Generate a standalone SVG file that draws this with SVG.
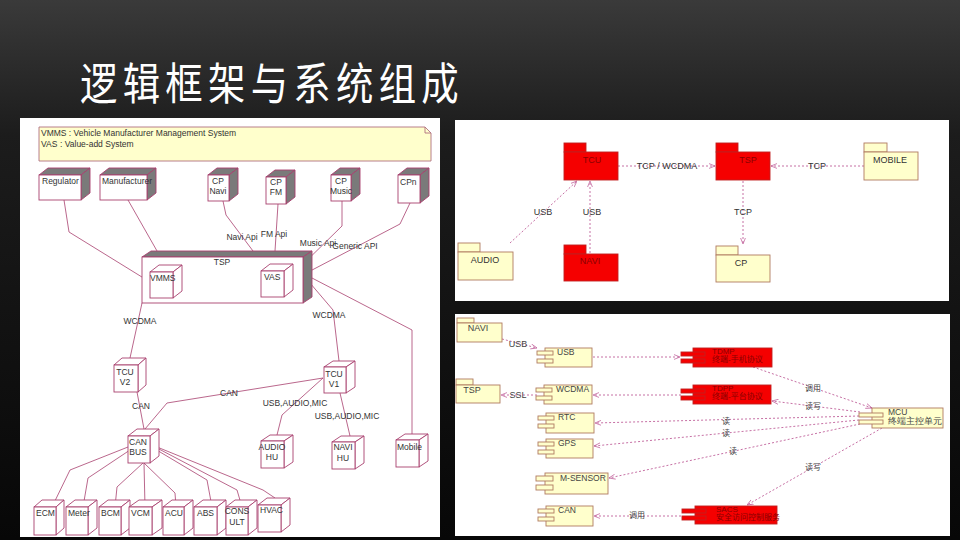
<svg xmlns="http://www.w3.org/2000/svg" width="960" height="540" viewBox="0 0 960 540">
  <defs>
    <linearGradient id="bg" x1="0" y1="0" x2="0" y2="1">
      <stop offset="0" stop-color="#3a3a3a"/>
      <stop offset="0.25" stop-color="#1c1c1c"/>
      <stop offset="1" stop-color="#070707"/>
    </linearGradient>
    <marker id="arr" viewBox="0 0 10 10" refX="10" refY="5" markerWidth="7" markerHeight="7" orient="auto-start-reverse">
      <path d="M0,1 L10,5 L0,9" fill="none" stroke="#c0609a" stroke-width="1.2"/>
    </marker>
    <style>
      .fr { fill: #ffffff; stroke: #a8406e; stroke-width: 0.9; }
      .sd { fill: #7a7a7a; stroke: #a8406e; stroke-width: 0.9; }
      .wsd { fill: #ffffff; stroke: #a8406e; stroke-width: 0.9; }
      .nl { font-family: "Liberation Sans", Arial, sans-serif; font-size: 8.5px; fill: #333; }
      .nlc { font-family: "Liberation Sans", Arial, sans-serif; font-size: 8.5px; fill: #333; text-anchor: middle; }
      .ln { fill: none; stroke: #a8406e; stroke-width: 0.8; }
      .dl { fill: none; stroke: #c0609a; stroke-width: 0.9; stroke-dasharray: 2 2; }
      .pk { fill: #ffffcc; stroke: #b07a60; stroke-width: 0.9; }
      .rpk { fill: #f50000; stroke: #c02020; stroke-width: 0.9; }
      .pl { font-family: "Liberation Sans", Arial, sans-serif; font-size: 9px; fill: #333; text-anchor: middle; }
      .rl { font-family: "Liberation Sans", Arial, sans-serif; font-size: 9px; fill: #8a0000; text-anchor: middle; }
      .cl { font-family: "Liberation Sans", Arial, sans-serif; font-size: 9px; fill: #444; text-anchor: middle; }
      .cn { font-family: "Liberation Sans", Arial, sans-serif; font-size: 8.5px; fill: #444; }
      .rt { font-family: "Liberation Sans", "Noto Sans CJK SC", sans-serif; font-size: 8px; fill: #8a0000; }
      .zh { font-family: "Noto Sans CJK SC", sans-serif; font-size: 8px; fill: #444; text-anchor: middle; }
    </style>
  </defs>

  <!-- slide background -->
  <rect x="0" y="0" width="960" height="540" fill="url(#bg)"/>

  <!-- title -->
  <text transform="translate(80,100) scale(0.85,1)" font-family="Noto Sans CJK SC, sans-serif" font-size="44" letter-spacing="6.2" fill="#ffffff">逻辑框架与系统组成</text>

  <!-- ============ left panel: deployment view ============ -->
  <rect x="20" y="118" width="420" height="419" fill="#ffffff"/>

  <g id="legend">
    <polygon points="39,127 425,127 431,133 431,161 39,161" fill="#ffffcc" stroke="#b07080" stroke-width="0.9"/>
    <polyline points="425,127 425,133 431,133" fill="none" stroke="#b07080" stroke-width="0.9"/>
    <text x="41" y="136" class="nl" font-size="8">VMMS : Vehicle Manufacturer Management System</text>
    <text x="41" y="147" class="nl" font-size="8">VAS<tspan x="60">: Value-add System</tspan></text>
  </g>

  <g id="left-connectors">
    <polyline class="ln" points="64,200 69,232 150,282"/>
    <polyline class="ln" points="128,200 165,265"/>
    <polyline class="ln" points="223,201 226,215 253,251 263,280"/>
    <polyline class="ln" points="278,204 275,251 275,265"/>
    <polyline class="ln" points="342,201 342,226 292,275"/>
    <polyline class="ln" points="410,203 400,224 293,280"/>
    <polyline class="ln" points="312,278 412,330 412,434"/>
    <polyline class="ln" points="310,283 333,310 339,361"/>
    <polyline class="ln" points="142,303 130,358"/>
    <polyline class="ln" points="137,392 144,429"/>
    <polyline class="ln" points="323,378 167,403 145,429"/>
    <polyline class="ln" points="323,378 282,415 277,435"/>
    <polyline class="ln" points="340,393 350,436"/>
    <polyline class="ln" points="128,447 70,470 52,507"/>
    <polyline class="ln" points="130,450 88,478 83,507"/>
    <polyline class="ln" points="143,463 117,487 115,507"/>
    <polyline class="ln" points="144,463 145,507"/>
    <polyline class="ln" points="144,463 175,493 176,507"/>
    <polyline class="ln" points="155,449 207,480 212,507"/>
    <polyline class="ln" points="157,448 237,490 242,507"/>
    <polyline class="ln" points="157,447 263,490 275,498"/>
    <text x="242" y="240" class="nlc" font-size="8">Navi Api</text>
    <text x="274" y="237" class="nlc" font-size="8">FM Api</text>
    <text x="318" y="246" class="nlc" font-size="7.5">Music Api</text>
    <text x="355" y="249" class="nlc" font-size="7.5">Generic API</text>
    <text x="140" y="324" class="nlc" font-size="8">WCDMA</text>
    <text x="329" y="318" class="nlc" font-size="8">WCDMA</text>
    <text x="141" y="409" class="nlc" font-size="8">CAN</text>
    <text x="229" y="396" class="nlc" font-size="8">CAN</text>
    <text x="295" y="406" class="nlc" font-size="8">USB,AUDIO,MIC</text>
    <text x="347" y="419" class="nlc" font-size="8">USB,AUDIO,MIC</text>
  </g>

  <!-- 3D nodes: front face, top face, right face -->
  <g id="regulator">
    <polygon class="sd" points="39,175 48,168 90,168 81,175"/>
    <polygon class="sd" points="81,175 90,168 90,193 81,200"/>
    <rect class="fr" x="39" y="175" width="42" height="25"/>
    <text x="42" y="184" class="nl">Regulator</text>
  </g>
  <g id="manufacturer">
    <polygon class="sd" points="100,175 109,168 156,168 147,175"/>
    <polygon class="sd" points="147,175 156,168 156,193 147,200"/>
    <rect class="fr" x="100" y="175" width="47" height="25"/>
    <text x="102" y="184" class="nl">Manufacturer</text>
  </g>
  <g id="cp-navi">
    <polygon class="sd" points="208,175 217,168 238,168 229,175"/>
    <polygon class="sd" points="229,175 238,168 238,194 229,201"/>
    <rect class="fr" x="208" y="175" width="21" height="26"/>
    <text x="218" y="184" class="nlc">CP</text>
    <text x="218" y="194" class="nlc">Navi</text>
  </g>
  <g id="cp-fm">
    <polygon class="sd" points="266,177 275,170 295,170 286,177"/>
    <polygon class="sd" points="286,177 295,170 295,197 286,204"/>
    <rect class="fr" x="266" y="177" width="20" height="27"/>
    <text x="276" y="185" class="nlc">CP</text>
    <text x="276" y="195" class="nlc">FM</text>
  </g>
  <g id="cp-music">
    <polygon class="sd" points="331,175 340,168 360,168 351,175"/>
    <polygon class="sd" points="351,175 360,168 360,194 351,201"/>
    <rect class="fr" x="331" y="175" width="20" height="26"/>
    <text x="341" y="184" class="nlc">CP</text>
    <text x="341" y="194" class="nlc">Music</text>
  </g>
  <g id="cpn">
    <polygon class="sd" points="398,175 407,168 429,168 420,175"/>
    <polygon class="sd" points="420,175 429,168 429,196 420,203"/>
    <rect class="fr" x="398" y="175" width="22" height="28"/>
    <text x="400" y="185" class="nl">CPn</text>
  </g>
  <g id="tsp">
    <polygon class="sd" points="142,257 151,251 312,251 303,257"/>
    <polygon class="sd" points="303,257 312,251 312,297 303,303"/>
    <rect class="fr" x="142" y="257" width="161" height="46"/>
    <text x="222" y="265" class="nlc">TSP</text>
  </g>
  <g id="vmms">
    <polygon class="wsd" points="150,272 159,265 182,265 173,272"/>
    <polygon class="wsd" points="173,272 182,265 182,291 173,298"/>
    <rect class="fr" x="150" y="272" width="23" height="26"/>
    <text x="150" y="281" class="nl">VMMS</text>
  </g>
  <g id="vas">
    <polygon class="wsd" points="261,271 270,264 293,264 284,271"/>
    <polygon class="wsd" points="284,271 293,264 293,290 284,297"/>
    <rect class="fr" x="261" y="271" width="23" height="26"/>
    <text x="264" y="280" class="nl">VAS</text>
  </g>
  <g id="tcu-v2">
    <polygon class="wsd" points="114,365 122,358 146,358 138,365"/>
    <polygon class="wsd" points="138,365 146,358 146,385 138,392"/>
    <rect class="fr" x="114" y="365" width="24" height="27"/>
    <text x="125" y="375" class="nlc">TCU</text>
    <text x="125" y="385" class="nlc">V2</text>
  </g>
  <g id="tcu-v1">
    <polygon class="wsd" points="324,367 333,361 355,361 346,367"/>
    <polygon class="wsd" points="346,367 355,361 355,387 346,393"/>
    <rect class="fr" x="324" y="367" width="22" height="26"/>
    <text x="334" y="377" class="nlc">TCU</text>
    <text x="334" y="387" class="nlc">V1</text>
  </g>
  <g id="can-bus">
    <polygon class="wsd" points="128,436 137,429 159,429 150,436"/>
    <polygon class="wsd" points="150,436 159,429 159,456 150,463"/>
    <rect class="fr" x="128" y="436" width="22" height="27"/>
    <text x="138" y="445" class="nlc">CAN</text>
    <text x="138" y="455" class="nlc">BUS</text>
  </g>
  <g id="audio-hu">
    <polygon class="wsd" points="261,441 270,435 293,435 284,441"/>
    <polygon class="wsd" points="284,441 293,435 293,462 284,468"/>
    <rect class="fr" x="261" y="441" width="23" height="27"/>
    <text x="272" y="450" class="nlc">AUDIO</text>
    <text x="272" y="460" class="nlc">HU</text>
  </g>
  <g id="navi-hu">
    <polygon class="wsd" points="332,442 341,436 364,436 355,442"/>
    <polygon class="wsd" points="355,442 364,436 364,463 355,469"/>
    <rect class="fr" x="332" y="442" width="23" height="27"/>
    <text x="343" y="450" class="nlc">NAVI</text>
    <text x="343" y="461" class="nlc">HU</text>
  </g>
  <g id="mobile-node">
    <polygon class="wsd" points="396,440 405,434 428,434 419,440"/>
    <polygon class="wsd" points="419,440 428,434 428,461 419,467"/>
    <rect class="fr" x="396" y="440" width="23" height="27"/>
    <text x="397" y="450" class="nl">Mobile</text>
  </g>
  <g id="ecm">
    <polygon class="wsd" points="34,507 42,500 64,500 56,507"/>
    <polygon class="wsd" points="56,507 64,500 64,528 56,535"/>
    <rect class="fr" x="34" y="507" width="22" height="28"/>
    <text x="36" y="516" class="nl">ECM</text>
  </g>
  <g id="meter">
    <polygon class="wsd" points="66,507 75,500 97,500 88,507"/>
    <polygon class="wsd" points="88,507 97,500 97,528 88,535"/>
    <rect class="fr" x="66" y="507" width="22" height="28"/>
    <text x="68" y="516" class="nl">Meter</text>
  </g>
  <g id="bcm">
    <polygon class="wsd" points="99,507 108,500 130,500 121,507"/>
    <polygon class="wsd" points="121,507 130,500 130,528 121,535"/>
    <rect class="fr" x="99" y="507" width="22" height="28"/>
    <text x="101" y="516" class="nl">BCM</text>
  </g>
  <g id="vcm">
    <polygon class="wsd" points="129,507 139,500 162,500 152,507"/>
    <polygon class="wsd" points="152,507 162,500 162,528 152,535"/>
    <rect class="fr" x="129" y="507" width="23" height="28"/>
    <text x="131" y="516" class="nl">VCM</text>
  </g>
  <g id="acu">
    <polygon class="wsd" points="163,507 172,500 193,500 184,507"/>
    <polygon class="wsd" points="184,507 193,500 193,528 184,535"/>
    <rect class="fr" x="163" y="507" width="21" height="28"/>
    <text x="165" y="516" class="nl">ACU</text>
  </g>
  <g id="abs">
    <polygon class="wsd" points="194,507 203,500 226,500 217,507"/>
    <polygon class="wsd" points="217,507 226,500 226,528 217,535"/>
    <rect class="fr" x="194" y="507" width="23" height="28"/>
    <text x="197" y="516" class="nl">ABS</text>
  </g>
  <g id="consult">
    <polygon class="wsd" points="226,507 235,500 257,500 248,507"/>
    <polygon class="wsd" points="248,507 257,500 257,528 248,535"/>
    <rect class="fr" x="226" y="507" width="22" height="28"/>
    <text x="237" y="514" class="nlc">CONS</text>
    <text x="237" y="525" class="nlc">ULT</text>
  </g>
  <g id="hvac">
    <polygon class="wsd" points="258,505 267,498 290,498 281,505"/>
    <polygon class="wsd" points="281,505 290,498 290,525 281,532"/>
    <rect class="fr" x="258" y="505" width="23" height="27"/>
    <text x="260" y="513" class="nl">HVAC</text>
  </g>

  <!-- ============ top right panel: package view ============ -->
  <rect x="455" y="120" width="494" height="181" fill="#ffffff"/>

  <g id="top-connectors">
    <line class="dl" x1="618" y1="166" x2="715" y2="166" marker-end="url(#arr)"/>
    <line class="dl" x1="864" y1="166" x2="771" y2="166" marker-end="url(#arr)"/>
    <line class="dl" x1="510" y1="243" x2="577" y2="181" marker-end="url(#arr)"/>
    <line class="dl" x1="590" y1="253" x2="590" y2="181" marker-end="url(#arr)"/>
    <line class="dl" x1="743" y1="181" x2="743" y2="244" marker-end="url(#arr)"/>
    <text x="667" y="169" class="pl">TCP / WCDMA</text>
    <text x="817" y="169" class="pl">TCP</text>
    <text x="543" y="215" class="pl">USB</text>
    <text x="592" y="215" class="pl">USB</text>
    <text x="743" y="215" class="pl">TCP</text>
  </g>

  <g id="pkg-tcu">
    <rect class="rpk" x="564" y="143" width="22" height="9"/>
    <rect class="rpk" x="564" y="152" width="54" height="28"/>
    <text x="592" y="163" class="rl">TCU</text>
  </g>
  <g id="pkg-tsp">
    <rect class="rpk" x="716" y="143" width="22" height="9"/>
    <rect class="rpk" x="716" y="152" width="54" height="28"/>
    <text x="748" y="163" class="rl">TSP</text>
  </g>
  <g id="pkg-mobile">
    <rect class="pk" x="864" y="143" width="23" height="9"/>
    <rect class="pk" x="864" y="152" width="54" height="28"/>
    <text x="890" y="163" class="pl">MOBILE</text>
  </g>
  <g id="pkg-audio">
    <rect class="pk" x="458" y="243" width="22" height="9"/>
    <rect class="pk" x="458" y="252" width="55" height="28"/>
    <text x="485" y="263" class="pl">AUDIO</text>
  </g>
  <g id="pkg-navi">
    <rect class="rpk" x="564" y="245" width="22" height="9"/>
    <rect class="rpk" x="564" y="254" width="54" height="27"/>
    <text x="590" y="264" class="rl">NAVI</text>
  </g>
  <g id="pkg-cp">
    <rect class="pk" x="716" y="246" width="22" height="9"/>
    <rect class="pk" x="716" y="255" width="54" height="27"/>
    <text x="741" y="266" class="pl">CP</text>
  </g>

  <!-- ============ bottom right panel: component view ============ -->
  <rect x="455" y="314" width="495" height="222" fill="#ffffff"/>

  <g id="bottom-connectors">
    <line class="dl" x1="502" y1="339" x2="537" y2="348" marker-end="url(#arr)"/>
    <line class="dl" x1="537" y1="395" x2="501" y2="395" marker-end="url(#arr)"/>
    <line class="dl" x1="593" y1="357" x2="680" y2="357" marker-end="url(#arr)"/>
    <line class="dl" x1="681" y1="395" x2="593" y2="395" marker-end="url(#arr)"/>
    <line class="dl" x1="859" y1="416" x2="595" y2="423" marker-end="url(#arr)"/>
    <line class="dl" x1="859" y1="420" x2="594" y2="446" marker-end="url(#arr)"/>
    <line class="dl" x1="860" y1="424" x2="609" y2="478" marker-end="url(#arr)"/>
    <line class="dl" x1="753" y1="367" x2="872" y2="408" marker-end="url(#arr)"/>
    <line class="dl" x1="860" y1="412" x2="772" y2="401" marker-end="url(#arr)"/>
    <line class="dl" x1="882" y1="428" x2="747" y2="505" marker-end="url(#arr)"/>
    <line class="dl" x1="681" y1="516" x2="594" y2="516" marker-end="url(#arr)"/>
    <text x="518" y="347" class="cl" font-size="8.5">USB</text>
    <text x="518" y="398" class="cl" font-size="8.5">SSL</text>
    <text x="813" y="391" class="zh">调用</text>
    <text x="813" y="409" class="zh">读写</text>
    <text x="726" y="424" class="zh">读</text>
    <text x="726" y="436" class="zh">读</text>
    <text x="733" y="454" class="zh">读</text>
    <text x="813" y="470" class="zh">读写</text>
    <text x="637" y="518" class="zh">调用</text>
  </g>

  <g id="pkg-navi-2">
    <rect class="pk" x="457" y="318" width="17" height="5"/>
    <rect class="pk" x="457" y="323" width="45" height="19"/>
    <text x="478" y="331" class="cl" font-size="8.5">NAVI</text>
  </g>
  <g id="pkg-tsp-2">
    <rect class="pk" x="456" y="379" width="17" height="6"/>
    <rect class="pk" x="456" y="385" width="44" height="18"/>
    <text x="472" y="393" class="cl" font-size="8.5">TSP</text>
  </g>

  <g id="comp-usb">
    <rect class="pk" x="545" y="348" width="47" height="19"/>
    <rect class="pk" x="537" y="351" width="16" height="4"/>
    <rect class="pk" x="537" y="359" width="16" height="4"/>
    <text x="557" y="355" class="cn">USB</text>
  </g>
  <g id="comp-wcdma">
    <rect class="pk" x="544" y="385" width="48" height="19"/>
    <rect class="pk" x="536" y="388" width="16" height="4"/>
    <rect class="pk" x="536" y="396" width="16" height="4"/>
    <text x="556" y="392" class="cn">WCDMA</text>
  </g>
  <g id="comp-rtc">
    <rect class="pk" x="546" y="413" width="48" height="20"/>
    <rect class="pk" x="538" y="416" width="16" height="4"/>
    <rect class="pk" x="538" y="424" width="16" height="4"/>
    <text x="558" y="420" class="cn">RTC</text>
  </g>
  <g id="comp-gps">
    <rect class="pk" x="546" y="439" width="47" height="19"/>
    <rect class="pk" x="538" y="442" width="16" height="4"/>
    <rect class="pk" x="538" y="450" width="16" height="4"/>
    <text x="558" y="446" class="cn">GPS</text>
  </g>
  <g id="comp-msensor">
    <rect class="pk" x="545" y="473" width="63" height="21"/>
    <rect class="pk" x="536" y="476" width="17" height="5"/>
    <rect class="pk" x="536" y="485" width="17" height="5"/>
    <text x="560" y="481" class="cn">M-SENSOR</text>
  </g>
  <g id="comp-can">
    <rect class="pk" x="546" y="506" width="47" height="20"/>
    <rect class="pk" x="538" y="509" width="16" height="4"/>
    <rect class="pk" x="538" y="517" width="16" height="4"/>
    <text x="558" y="513" class="cn">CAN</text>
  </g>

  <g id="comp-tdmp">
    <rect class="rpk" x="693" y="348" width="79" height="19"/>
    <rect class="rpk" x="681" y="352" width="24" height="4" stroke="#ffd0d0"/>
    <rect class="rpk" x="681" y="359" width="24" height="4" stroke="#ffd0d0"/>
    <text x="712" y="354" class="rt">TDMP</text>
    <text x="712" y="362" class="rt">终端-手机协议</text>
  </g>
  <g id="comp-tdpp">
    <rect class="rpk" x="693" y="385" width="78" height="19"/>
    <rect class="rpk" x="681" y="389" width="24" height="4" stroke="#ffd0d0"/>
    <rect class="rpk" x="681" y="396" width="24" height="4" stroke="#ffd0d0"/>
    <text x="712" y="391" class="rt">TDPP</text>
    <text x="712" y="399" class="rt">终端-平台协议</text>
  </g>
  <g id="comp-sacs">
    <rect class="rpk" x="695" y="506" width="82" height="18"/>
    <rect class="rpk" x="682" y="509" width="24" height="4" stroke="#ffd0d0"/>
    <rect class="rpk" x="682" y="516" width="24" height="4" stroke="#ffd0d0"/>
    <text x="716" y="512" class="rt">SACS</text>
    <text x="716" y="520" class="rt">安全访问控制服务</text>
  </g>
  <g id="comp-mcu">
    <rect class="pk" x="872" y="408" width="71" height="20"/>
    <rect class="pk" x="859" y="413" width="24" height="4"/>
    <rect class="pk" x="859" y="420" width="24" height="4"/>
    <text x="888" y="415" class="cn">MCU</text>
    <text x="888" y="424" class="cn" font-family="Noto Sans CJK SC, sans-serif" font-size="8">终端主控单元</text>
  </g>
</svg>
